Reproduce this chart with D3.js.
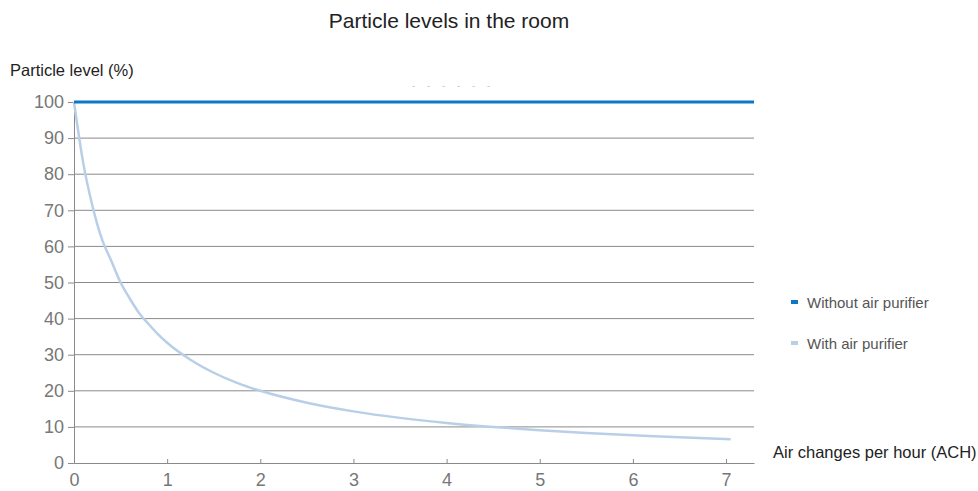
<!DOCTYPE html>
<html>
<head>
<meta charset="utf-8">
<script src="https://cdn.jsdelivr.net/npm/d3@7/dist/d3.min.js"></script>
<style>
  body { margin: 0; background: #fff; }
  text { font-family: "Liberation Sans", Arial, sans-serif; }
</style>
</head>
<body>
<svg id="chart" width="978" height="491"></svg>
<script>
const yTicks = [0, 10, 20, 30, 40, 50, 60, 70, 80, 90, 100];
const xTicks = [0, 1, 2, 3, 4, 5, 6, 7];

// without purifier: flat at 100 across the whole axis
const withoutX = [0, 7.3];
const withoutY = [100, 100];

// with purifier
const withX = [0, 0.1, 0.2, 0.3, 0.4, 0.5, 0.6, 0.7, 0.8, 0.9, 1, 1.25, 1.5, 1.75, 2, 2.5, 3, 3.5, 4, 4.5, 5, 5.5, 6, 6.5, 7.05];
const withY = [100, 83, 71, 62, 56, 50, 45.5, 41.5, 38.5, 35.7, 33.3, 28.6, 25, 22.2, 20, 16.7, 14.3, 12.5, 11.1, 10, 9.1, 8.3, 7.7, 7.1, 6.6];

const legendNames = ["Without air purifier", "With air purifier"];
const colors = ["#0b78c6", "#b9cfe8"];

const svg = d3.select("#chart");
const x = d3.scaleLinear().domain([0, 7.3]).range([74, 754]);
const y = d3.scaleLinear().domain([0, 100]).range([463, 102]);

svg.append("text").attr("x", 449).attr("y", 28).attr("text-anchor", "middle")
  .attr("font-size", 21).attr("fill", "#222").text("Particle levels in the room");

svg.append("text").attr("x", 10).attr("y", 76).attr("font-size", 16.5)
  .attr("fill", "#222").text("Particle level (%)");

// little leftover marks under the title
svg.append("text").attr("x", 412).attr("y", 89).attr("font-size", 9)
  .attr("fill", "#bbb").attr("letter-spacing", 12).text("------");

// gridlines
svg.append("g").selectAll("line").data(yTicks.filter(d => d > 0)).enter()
  .append("line")
  .attr("x1", x(0)).attr("x2", x(7.3))
  .attr("y1", d => y(d)).attr("y2", d => y(d))
  .attr("stroke", "#8a8a8a").attr("stroke-width", 1);

// y axis
const yAxis = svg.append("g").attr("transform", `translate(${x(0)},0)`)
  .call(d3.axisLeft(y).tickValues(yTicks).tickSize(6).tickPadding(4));
yAxis.select(".domain").attr("stroke", "#8a8a8a");
yAxis.selectAll(".tick line").attr("stroke", "#8a8a8a");
yAxis.selectAll(".tick text").attr("font-size", 18).attr("fill", "#777")
  .attr("font-family", "Liberation Sans, Arial, sans-serif");

// x axis
const xAxis = svg.append("g").attr("transform", `translate(0,${y(0)})`)
  .call(d3.axisBottom(x).tickValues(xTicks).tickSize(0).tickPadding(10));
xAxis.select(".domain").attr("stroke", "#8a8a8a");
xAxis.selectAll(".tick line").attr("y2", -4).attr("stroke", "#8a8a8a");
xAxis.selectAll(".tick text").attr("font-size", 18).attr("fill", "#777")
  .attr("font-family", "Liberation Sans, Arial, sans-serif");

svg.append("text").attr("x", 773).attr("y", 458).attr("font-size", 16.5)
  .attr("fill", "#222").text("Air changes per hour (ACH)");

const line = d3.line().x(d => x(d[0])).y(d => y(d[1]));

svg.append("path").datum(withX.map((v, i) => [v, withY[i]]))
  .attr("d", line.curve(d3.curveMonotoneX)).attr("fill", "none")
  .attr("stroke", colors[1]).attr("stroke-width", 2.5);

svg.append("path").datum(withoutX.map((v, i) => [v, withoutY[i]]))
  .attr("d", d3.line().x(d => x(d[0])).y(d => y(d[1]))).attr("fill", "none")
  .attr("stroke", colors[0]).attr("stroke-width", 3);

// legend
const leg = svg.append("g").selectAll("g").data(legendNames).enter()
  .append("g").attr("transform", (d, i) => `translate(791,${302 + i * 41})`);
leg.append("rect").attr("x", 0).attr("y", -2).attr("width", 7).attr("height", 4)
  .attr("fill", (d, i) => colors[i]);
leg.append("text").attr("x", 16).attr("y", 5.5).attr("font-size", 15)
  .attr("fill", "#555").text(d => d);
</script>
</body>
</html>
